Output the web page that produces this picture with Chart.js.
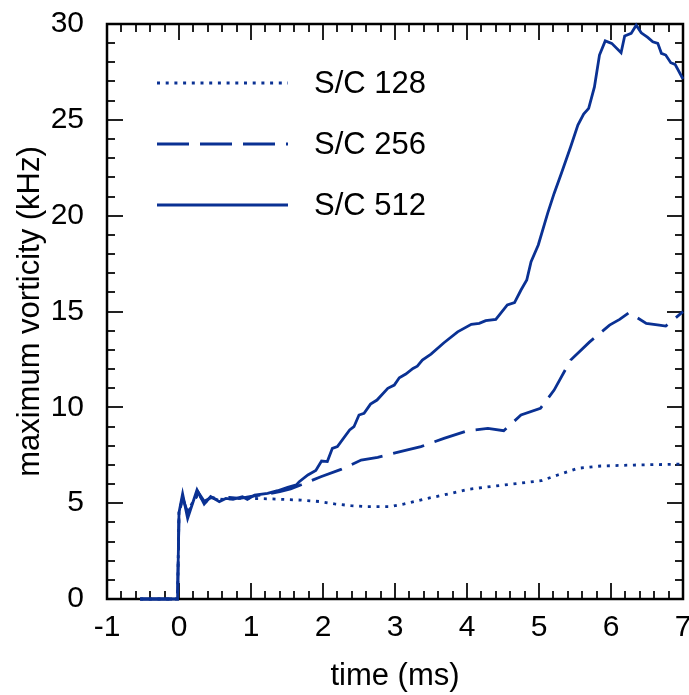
<!DOCTYPE html>
<html>
<head>
<meta charset="utf-8">
<script src="https://cdn.jsdelivr.net/npm/chart.js@4.4.1/dist/chart.umd.min.js"></script>
<style>
  html, body { margin: 0; padding: 0; background: #fff; }
  #wrap { width: 689px; height: 695px; }
</style>
</head>
<body>
<div id="wrap"><canvas id="vortChart" width="689" height="695"></canvas></div>
<script>
// time (ms) and max vorticity (kHz)
const t128 = [-0.54, -0.02, 0.0, 0.05, 0.12, 0.2, 0.27, 0.35, 0.45, 0.6, 0.8, 1.0, 1.3, 1.69, 1.97, 2.16, 2.39, 2.62, 2.94, 3.13, 3.45, 3.78, 4.01, 4.38, 4.7, 5.03, 5.26, 5.54, 5.86, 6.32, 7.0];
const v128 = [0, 0, 4.6, 5.2, 4.6, 5.1, 5.5, 5.0, 5.3, 5.2, 5.25, 5.25, 5.22, 5.16, 5.08, 4.96, 4.87, 4.82, 4.82, 4.96, 5.25, 5.51, 5.72, 5.89, 6.03, 6.17, 6.47, 6.82, 6.94, 6.99, 7.04];

const t256 = [-0.54, -0.02, 0.0, 0.05, 0.12, 0.2, 0.27, 0.35, 0.45, 0.55, 0.7, 0.85, 1.0, 1.2, 1.4, 1.55, 1.69, 1.97, 2.25, 2.53, 2.76, 3.13, 3.36, 3.68, 4.01, 4.29, 4.51, 4.75, 5.02, 5.21, 5.44, 5.7, 5.98, 6.12, 6.25, 6.49, 6.67, 6.76, 7.0];
const v256 = [0, 0, 4.4, 5.3, 4.5, 5.0, 5.55, 5.1, 5.3, 5.15, 5.3, 5.25, 5.35, 5.45, 5.6, 5.75, 5.95, 6.38, 6.76, 7.25, 7.39, 7.74, 7.95, 8.38, 8.78, 8.9, 8.78, 9.6, 9.95, 10.9, 12.47, 13.4, 14.29, 14.59, 14.94, 14.38, 14.29, 14.24, 14.99];

const t512 = [-0.54, -0.02, 0.0, 0.05, 0.12, 0.25, 0.35, 0.44, 0.56, 0.65, 0.75, 0.88, 0.95, 1.05, 1.23, 1.37, 1.51, 1.63, 1.67, 1.79, 1.9, 1.98, 2.06, 2.13, 2.2, 2.37, 2.43, 2.5, 2.57, 2.66, 2.75, 2.9, 2.99, 3.06, 3.15, 3.25, 3.31, 3.38, 3.5, 3.68, 3.87, 4.06, 4.17, 4.26, 4.4, 4.56, 4.66, 4.75, 4.83, 4.89, 4.99, 5.12, 5.21, 5.31, 5.44, 5.54, 5.62, 5.69, 5.77, 5.84, 5.92, 6.01, 6.14, 6.19, 6.28, 6.35, 6.42, 6.51, 6.58, 6.65, 6.7, 6.76, 6.83, 6.89, 7.0];
const v512 = [0, 0, 4.5, 5.48, 4.21, 5.69, 4.96, 5.34, 5.08, 5.25, 5.2, 5.34, 5.2, 5.42, 5.51, 5.65, 5.82, 5.95, 6.12, 6.47, 6.7, 7.2, 7.17, 7.86, 7.95, 8.82, 8.99, 9.6, 9.69, 10.17, 10.38, 10.99, 11.16, 11.54, 11.74, 12.03, 12.15, 12.47, 12.78, 13.37, 13.94, 14.33, 14.38, 14.52, 14.59, 15.34, 15.46, 16.12, 16.64, 17.6, 18.47, 20.12, 21.16, 22.2, 23.6, 24.73, 25.3, 25.6, 26.72, 28.38, 29.12, 28.99, 28.5, 29.37, 29.51, 29.94, 29.54, 29.3, 29.07, 28.99, 28.47, 28.38, 27.98, 27.89, 27.13];

const seriesNames = ["S/C 128", "S/C 256", "S/C 512"];
const xTicks = [-1, 0, 1, 2, 3, 4, 5, 6, 7];
const yTicks = [0, 5, 10, 15, 20, 25, 30];

const blue = "#0a3193";
const fontName = "'Liberation Sans', Arial, sans-serif";

function toPoints(ts, vs) {
  return ts.map((t, i) => ({ x: t, y: vs[i] }));
}

// box around plot + inward ticks on all four sides (under the curves)
const frameTicks = {
  id: "frameTicks",
  beforeDatasetsDraw(chart) {
    const { ctx, chartArea: a, scales } = chart;
    const xs = scales.x, ys = scales.y;
    ctx.save();
    ctx.strokeStyle = "#222";
    ctx.lineWidth = 2;
    ctx.beginPath();
    for (let v = -1; v <= 7.001; v += 0.2) {
      const px = Math.round(xs.getPixelForValue(v));
      const len = Math.abs(v - Math.round(v)) < 1e-6 ? 16 : 8;
      ctx.moveTo(px, a.bottom); ctx.lineTo(px, a.bottom - len);
      ctx.moveTo(px, a.top); ctx.lineTo(px, a.top + len);
    }
    for (let v = 0; v <= 30; v += 1) {
      const py = Math.round(ys.getPixelForValue(v));
      const len = v % 5 === 0 ? 16 : 8;
      ctx.moveTo(a.left, py); ctx.lineTo(a.left + len, py);
      ctx.moveTo(a.right, py); ctx.lineTo(a.right - len, py);
    }
    ctx.stroke();
    ctx.strokeStyle = "#000";
    ctx.lineWidth = 2.5;
    ctx.strokeRect(a.left, a.top, a.right - a.left, a.bottom - a.top);
    ctx.restore();
  }
};

// legend drawn inside the plot, top left
const insideLegend = {
  id: "insideLegend",
  afterDatasetsDraw(chart) {
    const { ctx } = chart;
    ctx.save();
    chart.data.datasets.forEach((ds, i) => {
      const y = 83 + i * 61;
      ctx.strokeStyle = ds.borderColor;
      ctx.lineWidth = ds.borderWidth;
      ctx.setLineDash(ds.borderDash || []);
      ctx.beginPath();
      ctx.moveTo(157, y);
      ctx.lineTo(288, y);
      ctx.stroke();
      ctx.setLineDash([]);
      ctx.fillStyle = "#000";
      ctx.font = "31px " + fontName;
      ctx.textBaseline = "middle";
      ctx.textAlign = "left";
      ctx.fillText(ds.label, 314, y + 1);
    });
    ctx.restore();
  }
};

const chart = new Chart(document.getElementById("vortChart"), {
  type: "line",
  data: {
    datasets: [
      { label: seriesNames[0], data: toPoints(t128, v128), borderColor: blue, borderWidth: 2.8, borderDash: [3, 5.7], pointRadius: 0, tension: 0, fill: false, clip: 4 },
      { label: seriesNames[1], data: toPoints(t256, v256), borderColor: blue, borderWidth: 2.8, borderDash: [32, 11], pointRadius: 0, tension: 0, fill: false, clip: 4 },
      { label: seriesNames[2], data: toPoints(t512, v512), borderColor: blue, borderWidth: 2.8, pointRadius: 0, tension: 0, fill: false, clip: 4 },
    ],
  },
  options: {
    responsive: false,
    animation: false,
    layout: { padding: { top: 24, right: 6, left: 0, bottom: 0 } },
    plugins: { legend: { display: false }, tooltip: { enabled: false } },
    scales: {
      x: {
        type: "linear",
        min: -1,
        max: 7,
        afterFit: (s) => { s.height = 96; s.paddingLeft = 0; s.paddingRight = 0; },
        afterBuildTicks: (s) => { s.ticks = xTicks.map((v) => ({ value: v })); },
        grid: { display: false, drawTicks: false },
        border: { display: false },
        ticks: { color: "#000", padding: 11, maxRotation: 0, font: { family: fontName, size: 30 } },
        title: { display: true, text: "time (ms)", color: "#000", padding: { top: 0, bottom: 0 }, font: { family: fontName, size: 31, lineHeight: 1.2 } },
      },
      y: {
        min: 0,
        max: 30,
        afterFit: (s) => { s.width = 107; s.paddingTop = 0; s.paddingBottom = 0; },
        afterBuildTicks: (s) => { s.ticks = yTicks.map((v) => ({ value: v })); },
        grid: { display: false, drawTicks: false },
        border: { display: false },
        ticks: { color: "#000", padding: 23, font: { family: fontName, size: 30 } },
        title: { display: true, text: "maximum vorticity (kHz)", color: "#000", padding: { top: 12, bottom: 0 }, font: { family: fontName, size: 31, lineHeight: 1.2 } },
      },
    },
  },
  plugins: [frameTicks, insideLegend],
});
</script>
</body>
</html>
